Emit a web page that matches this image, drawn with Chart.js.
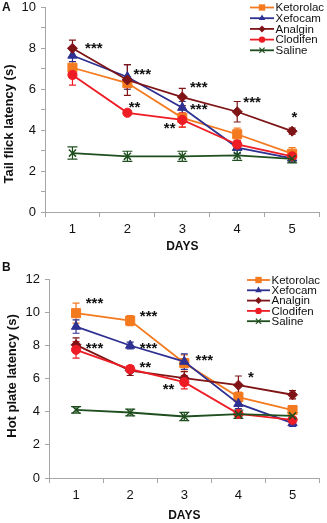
<!DOCTYPE html>
<html>
<head>
<meta charset="utf-8">
<script src="https://cdn.jsdelivr.net/npm/chart.js@4.4.0/dist/chart.umd.min.js"></script>
<style>
html, body { margin: 0; padding: 0; background: #fff; }
#wrap { width: 327px; height: 523px; position: relative; }
canvas { position: absolute; left: 0; }
</style>
</head>
<body>
<div id="wrap">
  <canvas id="chartA" width="327" height="256" style="top:0"></canvas>
  <canvas id="chartB" width="327" height="267" style="top:256px"></canvas>
</div>
<script>
// latency data

const days = ['1', '2', '3', '4', '5'];
const drugNames = ['Ketorolac', 'Xefocam', 'Analgin', 'Clodifen', 'Saline'];
const drugColors = ['#F47A20', '#2E3192', '#7F1416', '#EE1C25', '#1F4E1F'];
const drugMarkers = ['rect', 'triangle', 'rectRot', 'circle', 'crossRot'];
const markerSizes = [6.4, 5.4, 5, 4.6, 5];

// A: tail flick
const tailKetorolac = [7.05, 6.3, 4.6, 3.8, 2.85];
const tailXefocam = [7.65, 6.6, 5.1, 3.15, 2.62];
const tailAnalgin = [8.0, 6.45, 5.62, 4.9, 3.95];
const tailClodifen = [6.7, 4.85, 4.5, 3.3, 2.72];
const tailSaline = [2.88, 2.72, 2.72, 2.77, 2.6];

const tailErrKetorolac = [0.3, 0.3, 0.45, 0.3, 0.3];
const tailErrXefocam = [0.3, 0.6, 0.3, 0.3, 0.2];
const tailErrAnalgin = [0.4, 0.75, 0.42, 0.5, 0.15];
const tailErrClodifen = [0.5, 0.1, 0.35, 0.2, 0.2];
const tailErrSaline = [0.3, 0.25, 0.25, 0.25, 0.2];

// significance marks: [day position, value, stars]
const tailStars = [
    [1.39, 8.2, '***'], [2.27, 6.9, '***'], [2.13, 5.3, '**'],
    [3.3, 6.3, '***'], [3.3, 5.2, '***'], [2.77, 4.27, '**'],
    [4.27, 5.57, '***'], [5.04, 4.82, '*']
];

// B: hot plate
const hotKetorolac = [9.94, 9.49, 6.93, 4.88, 4.1];
const hotXefocam = [9.13, 7.99, 7.02, 4.48, 3.31];
const hotAnalgin = [8.03, 6.48, 6.02, 5.6, 5.02];
const hotClodifen = [7.73, 6.57, 5.78, 3.87, 3.51];
const hotSaline = [4.11, 3.95, 3.71, 3.85, 3.75];

const hotErrKetorolac = [0.6, 0.3, 0.5, 0.3, 0.2];
const hotErrXefocam = [0.4, 0.2, 0.47, 0.3, 0.2];
const hotErrAnalgin = [0.42, 0.3, 0.4, 0.55, 0.25];
const hotErrClodifen = [0.5, 0.2, 0.4, 0.2, 0.2];
const hotErrSaline = [0.2, 0.2, 0.25, 0.25, 0.2];

const hotStars = [
    [1.34, 10.78, '***'], [2.34, 10.0, '***'], [1.34, 8.07, '***'],
    [2.34, 8.07, '***'], [2.28, 6.93, '**'], [3.37, 7.33, '***'],
    [2.71, 5.56, '**'], [4.23, 6.32, '*']
];

const FONT = '"Liberation Sans", Arial, sans-serif';

function drawMarker(ctx, style, x, y, r, color) {
    ctx.save();
    ctx.fillStyle = color;
    ctx.strokeStyle = color;
    ctx.lineWidth = 1.2;
    ctx.beginPath();
    if (style === 'rect') {
        const s = r * Math.SQRT1_2;
        ctx.rect(x - s, y - s, 2 * s, 2 * s);
        ctx.fill();
    } else if (style === 'triangle') {
        ctx.moveTo(x, y - r);
        ctx.lineTo(x + r * 0.866, y + r * 0.5);
        ctx.lineTo(x - r * 0.866, y + r * 0.5);
        ctx.closePath();
        ctx.fill();
    } else if (style === 'rectRot') {
        ctx.moveTo(x, y - r);
        ctx.lineTo(x + r, y);
        ctx.lineTo(x, y + r);
        ctx.lineTo(x - r, y);
        ctx.closePath();
        ctx.fill();
    } else if (style === 'circle') {
        ctx.arc(x, y, r, 0, Math.PI * 2);
        ctx.fill();
    } else {
        const d = r * 0.75;
        ctx.moveTo(x - d, y - d); ctx.lineTo(x + d, y + d);
        ctx.moveTo(x + d, y - d); ctx.lineTo(x - d, y + d);
        ctx.stroke();
    }
    ctx.restore();
}

// error bars, legend, star marks and titles
const extrasPlugin = {
    id: 'extras',
    beforeDatasetsDraw(chart, args, opts) {
        const ctx = chart.ctx;
        const yScale = chart.scales.y;
        chart.data.datasets.forEach((ds, i) => {
            const meta = chart.getDatasetMeta(i);
            const errs = opts.errors[i];
            const cap = i === 4 ? 5 : 3.5;
            ctx.save();
            ctx.strokeStyle = ds.borderColor;
            ctx.lineWidth = 1.2;
            meta.data.forEach((pt, j) => {
                const v = ds.data[j];
                const top = yScale.getPixelForValue(v + errs[j]);
                const bot = yScale.getPixelForValue(v - errs[j]);
                ctx.beginPath();
                ctx.moveTo(pt.x, top); ctx.lineTo(pt.x, bot);
                ctx.moveTo(pt.x - cap, top); ctx.lineTo(pt.x + cap, top);
                ctx.moveTo(pt.x - cap, bot); ctx.lineTo(pt.x + cap, bot);
                ctx.stroke();
            });
            ctx.restore();
        });
    },
    afterDraw(chart, args, opts) {
        const ctx = chart.ctx;
        const xScale = chart.scales.x;
        const yScale = chart.scales.y;
        const area = chart.chartArea;
        ctx.save();

        // stars
        ctx.fillStyle = '#111';
        ctx.font = 'bold 15px ' + FONT;
        ctx.textAlign = 'center';
        ctx.textBaseline = 'alphabetic';
        opts.stars.forEach(s => {
            const x = xScale.getPixelForValue(s[0] - 1);
            const y = yScale.getPixelForValue(s[1]);
            ctx.fillText(s[2], x, y + 8.5);
        });

        // legend
        const lg = opts.legend;
        ctx.font = '11.5px ' + FONT;
        ctx.textAlign = 'left';
        ctx.textBaseline = 'middle';
        drugNames.forEach((name, i) => {
            const y = lg.y0 + i * lg.dy;
            ctx.strokeStyle = drugColors[i];
            ctx.lineWidth = 1.8;
            ctx.beginPath();
            ctx.moveTo(lg.x1, y); ctx.lineTo(lg.x2, y);
            ctx.stroke();
            drawMarker(ctx, drugMarkers[i], (lg.x1 + lg.x2) / 2, y, markerSizes[i] * 0.7, drugColors[i]);
            ctx.fillStyle = '#111';
            ctx.fillText(name, lg.x2 + 1.5, y + 0.5);
        });

        // axis titles and panel letter
        ctx.fillStyle = '#111';
        ctx.font = 'bold 12px ' + FONT;
        ctx.textAlign = 'center';
        ctx.fillText('DAYS', (area.left + area.right) / 2, opts.xTitleY);

        ctx.save();
        ctx.translate(opts.yTitleX, opts.yTitleY);
        ctx.rotate(-Math.PI / 2);
        ctx.font = 'bold 13px ' + FONT;
        ctx.fillText(opts.yTitle, 0, 0);
        ctx.restore();

        ctx.font = 'bold 12px ' + FONT;
        ctx.textAlign = 'left';
        ctx.fillText(opts.panel, 2, opts.panelY);
        ctx.restore();
    }
};

function buildChart(canvasId, series, errors, stars, cfg) {
    const datasets = series.map((vals, i) => ({
        label: drugNames[i],
        data: vals,
        borderColor: drugColors[i],
        backgroundColor: drugColors[i],
        borderWidth: 1.8,
        pointStyle: drugMarkers[i],
        pointRadius: markerSizes[i],
        pointHoverRadius: markerSizes[i],
        pointBorderWidth: i === 4 ? 1.5 : 1,
        pointBackgroundColor: drugColors[i],
        pointBorderColor: drugColors[i],
        tension: 0,
        order: 5 - i
    }));

    return new Chart(document.getElementById(canvasId), {
        type: 'line',
        data: { labels: days, datasets: datasets },
        options: {
            responsive: false,
            animation: false,
            layout: { padding: { top: cfg.padTop, right: cfg.padRight, left: 0, bottom: 0 } },
            plugins: {
                legend: { display: false },
                tooltip: { enabled: false },
                extras: {
                    errors: errors,
                    stars: stars,
                    legend: cfg.legend,
                    xTitleY: cfg.xTitleY,
                    yTitle: cfg.yTitle,
                    yTitleX: cfg.yTitleX,
                    yTitleY: cfg.yTitleY,
                    panel: cfg.panel,
                    panelY: cfg.panelY
                }
            },
            scales: {
                x: {
                    type: 'category',
                    offset: true,
                    grid: { offset: true, drawOnChartArea: false, tickLength: 5, color: '#A6A6A6' },
                    border: { color: '#A6A6A6' },
                    ticks: { color: '#111', padding: 5, font: { family: FONT, size: 13 } },
                    afterFit: s => { s.height = cfg.xHeight; s.paddingLeft = 0; s.paddingRight = 0; }
                },
                y: {
                    min: 0,
                    max: cfg.yMax,
                    grid: { drawOnChartArea: false, tickLength: 4, color: '#A6A6A6' },
                    border: { color: '#A6A6A6' },
                    ticks: {
                        stepSize: 1,
                        color: '#111',
                        padding: 5,
                        font: { family: FONT, size: 13 },
                        callback: v => (v % 2 === 0 ? v : '')
                    },
                    afterFit: s => { s.width = cfg.yWidth; s.paddingTop = 0; s.paddingBottom = 0; }
                }
            }
        },
        plugins: [extrasPlugin]
    });
}

buildChart('chartA',
    [tailKetorolac, tailXefocam, tailAnalgin, tailClodifen, tailSaline],
    [tailErrKetorolac, tailErrXefocam, tailErrAnalgin, tailErrClodifen, tailErrSaline],
    tailStars,
    {
        padTop: 7, padRight: 2, yWidth: 45, xHeight: 44, yMax: 10,
        legend: { x1: 250, x2: 274, y0: 7.5, dy: 10.7 },
        xTitleY: 247, yTitle: 'Tail flick latency (s)', yTitleX: 9, yTitleY: 124,
        panel: 'A', panelY: 8
    });

buildChart('chartB',
    [hotKetorolac, hotXefocam, hotAnalgin, hotClodifen, hotSaline],
    [hotErrKetorolac, hotErrXefocam, hotErrAnalgin, hotErrClodifen, hotErrSaline],
    hotStars,
    {
        padTop: 23, padRight: 5, yWidth: 49, xHeight: 45, yMax: 12,
        legend: { x1: 247, x2: 270, y0: 24, dy: 10.3 },
        xTitleY: 260, yTitle: 'Hot plate latency (s)', yTitleX: 12, yTitleY: 120,
        panel: 'B', panelY: 12
    });
</script>
</body>
</html>
